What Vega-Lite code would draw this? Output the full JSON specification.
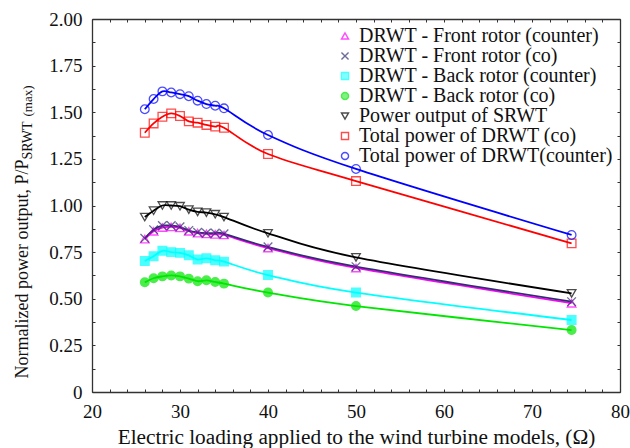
{
  "$schema": "https://vega.github.io/schema/vega-lite/v6.json",
  "width": 528,
  "height": 373,
  "autosize": {"type": "none"},
  "padding": {"left": 92, "top": 19, "right": 10, "bottom": 56},
  "background": "white",
  "config": {
    "font": "Liberation Serif",
    "view": {"stroke": null},
    "axis": {
      "domainColor": "#333333",
      "domainWidth": 1.3,
      "tickColor": "#333333",
      "tickWidth": 1,
      "tickSize": -3,
      "grid": false,
      "labelFont": "Liberation Serif",
      "labelFontSize": 19,
      "labelColor": "#111111",
      "labelFlush": false,
      "labelOverlap": false,
      "titleFont": "Liberation Serif",
      "titleFontSize": 18,
      "titleFontWeight": "normal",
      "titleColor": "#111111"
    },
    "legend": {
      "labelFont": "Liberation Serif",
      "labelFontSize": 20,
      "labelColor": "#111111",
      "labelLimit": 400,
      "labelOffset": 4,
      "symbolSize": 50,
      "symbolStrokeWidth": 1.4,
      "rowPadding": -7.5,
      "padding": 0
    }
  },
  "data": {
    "values": [
      {"x": 26, "DRWT - Front  rotor (counter)": 0.82, "DRWT - Front rotor (co)": 0.824, "DRWT - Back rotor (counter)": 0.702, "DRWT - Back rotor (co)": 0.588, "Power output of SRWT": 0.938, "Total power of DRWT (co)": 1.39, "Total power of DRWT(counter)": 1.516},
      {"x": 27, "DRWT - Front  rotor (counter)": 0.862, "DRWT - Front rotor (co)": 0.87, "DRWT - Back rotor (counter)": 0.728, "DRWT - Back rotor (co)": 0.61, "Power output of SRWT": 0.972, "Total power of DRWT (co)": 1.44, "Total power of DRWT(counter)": 1.571},
      {"x": 28, "DRWT - Front  rotor (counter)": 0.882, "DRWT - Front rotor (co)": 0.892, "DRWT - Back rotor (counter)": 0.757, "DRWT - Back rotor (co)": 0.62, "Power output of SRWT": 1.0, "Total power of DRWT (co)": 1.476, "Total power of DRWT(counter)": 1.612},
      {"x": 29, "DRWT - Front  rotor (counter)": 0.885, "DRWT - Front rotor (co)": 0.892, "DRWT - Back rotor (counter)": 0.75, "DRWT - Back rotor (co)": 0.625, "Power output of SRWT": 1.0, "Total power of DRWT (co)": 1.494, "Total power of DRWT(counter)": 1.606},
      {"x": 30, "DRWT - Front  rotor (counter)": 0.88, "DRWT - Front rotor (co)": 0.886, "DRWT - Back rotor (counter)": 0.746, "DRWT - Back rotor (co)": 0.62, "Power output of SRWT": 0.996, "Total power of DRWT (co)": 1.48, "Total power of DRWT(counter)": 1.597},
      {"x": 31, "DRWT - Front  rotor (counter)": 0.862, "DRWT - Front rotor (co)": 0.866, "DRWT - Back rotor (counter)": 0.733, "DRWT - Back rotor (co)": 0.608, "Power output of SRWT": 0.978, "Total power of DRWT (co)": 1.451, "Total power of DRWT(counter)": 1.586},
      {"x": 32, "DRWT - Front  rotor (counter)": 0.852, "DRWT - Front rotor (co)": 0.856, "DRWT - Back rotor (counter)": 0.71, "DRWT - Back rotor (co)": 0.594, "Power output of SRWT": 0.966, "Total power of DRWT (co)": 1.444, "Total power of DRWT(counter)": 1.562},
      {"x": 33, "DRWT - Front  rotor (counter)": 0.848, "DRWT - Front rotor (co)": 0.852, "DRWT - Back rotor (counter)": 0.717, "DRWT - Back rotor (co)": 0.599, "Power output of SRWT": 0.962, "Total power of DRWT (co)": 1.432, "Total power of DRWT(counter)": 1.544},
      {"x": 34, "DRWT - Front  rotor (counter)": 0.845, "DRWT - Front rotor (co)": 0.852, "DRWT - Back rotor (counter)": 0.706, "DRWT - Back rotor (co)": 0.59, "Power output of SRWT": 0.953, "Total power of DRWT (co)": 1.423, "Total power of DRWT(counter)": 1.535},
      {"x": 35, "DRWT - Front  rotor (counter)": 0.842, "DRWT - Front rotor (co)": 0.848, "DRWT - Back rotor (counter)": 0.699, "DRWT - Back rotor (co)": 0.581, "Power output of SRWT": 0.938, "Total power of DRWT (co)": 1.417, "Total power of DRWT(counter)": 1.521},
      {"x": 40, "DRWT - Front  rotor (counter)": 0.772, "DRWT - Front rotor (co)": 0.778, "DRWT - Back rotor (counter)": 0.627, "DRWT - Back rotor (co)": 0.533, "Power output of SRWT": 0.851, "Total power of DRWT (co)": 1.276, "Total power of DRWT(counter)": 1.378},
      {"x": 50, "DRWT - Front  rotor (counter)": 0.665, "DRWT - Front rotor (co)": 0.672, "DRWT - Back rotor (counter)": 0.533, "DRWT - Back rotor (co)": 0.461, "Power output of SRWT": 0.722, "Total power of DRWT (co)": 1.131, "Total power of DRWT(counter)": 1.196},
      {"x": 74.5, "DRWT - Front  rotor (counter)": 0.476, "DRWT - Front rotor (co)": 0.484, "DRWT - Back rotor (counter)": 0.386, "DRWT - Back rotor (co)": 0.332, "Power output of SRWT": 0.529, "Total power of DRWT (co)": 0.797, "Total power of DRWT(counter)": 0.842}
    ]
  },
  "transform": [
    {"fold": ["DRWT - Front  rotor (counter)", "DRWT - Front rotor (co)", "DRWT - Back rotor (counter)", "DRWT - Back rotor (co)", "Power output of SRWT", "Total power of DRWT (co)", "Total power of DRWT(counter)"], "as": ["s", "y"]}
  ],
  "layer": [
    {
      "mark": {"type": "line", "interpolate": "cardinal", "strokeWidth": 1.8},
      "encoding": {
        "x": {
          "field": "x", "type": "quantitative",
          "scale": {"domain": [20, 80], "nice": false},
          "axis": {
            "orient": "bottom",
            "values": [20, 22, 24, 26, 28, 30, 32, 34, 36, 38, 40, 42, 44, 46, 48, 50, 52, 54, 56, 58, 60, 62, 64, 66, 68, 70, 72, 74, 76, 78, 80],
            "labelExpr": "datum.value % 10 === 0 ? datum.label : ''",
            "labelPadding": 13,
            "title": "Electric loading applied to the wind turbine models, (Ω)",
            "titleFontSize": 21.3,
            "titleY": 51,
            "titleBaseline": "alphabetic"
          }
        },
        "y": {
          "field": "y", "type": "quantitative",
          "scale": {"domain": [0, 2], "nice": false, "zero": false},
          "axis": {
            "orient": "left",
            "values": [0, 0.125, 0.25, 0.375, 0.5, 0.625, 0.75, 0.875, 1, 1.125, 1.25, 1.375, 1.5, 1.625, 1.75, 1.875, 2],
            "labelExpr": "datum.value === 0 ? '0' : (round(datum.value * 8) % 2 === 0 ? format(datum.value, '.2f') : '')",
            "labelPadding": 13,
            "title": "Normalized power output, P/P",
            "titleAngle": 270,
            "titleAlign": "left",
            "titleBaseline": "alphabetic",
            "titleX": -65,
            "titleY": 359
          }
        },
        "color": {
          "field": "s", "type": "nominal", "legend": null,
          "scale": {
            "domain": ["Total power of DRWT(counter)", "Total power of DRWT (co)", "Power output of SRWT", "DRWT - Back rotor (co)", "DRWT - Back rotor (counter)", "DRWT - Front rotor (co)", "DRWT - Front  rotor (counter)"],
            "range": ["#0000ff", "#ff0000", "#000000", "#00e600", "#00ffff", "#2f2f6f", "#ff00ff"]
          }
        }
      }
    },
    {
      "mark": {"type": "point", "filled": false, "size": 75, "strokeWidth": 1.3},
      "encoding": {
        "x": {
          "field": "x", "type": "quantitative",
          "axis": {
            "orient": "top",
            "values": [20, 22, 24, 26, 28, 30, 32, 34, 36, 38, 40, 42, 44, 46, 48, 50, 52, 54, 56, 58, 60, 62, 64, 66, 68, 70, 72, 74, 76, 78, 80],
            "labels": false,
            "title": "(max)",
            "titleFontSize": 13,
            "titleAngle": 270,
            "titleAlign": "left",
            "titleBaseline": "alphabetic",
            "titleX": -61,
            "titleY": 97
          }
        },
        "y": {
          "field": "y", "type": "quantitative",
          "axis": {
            "orient": "right",
            "values": [0, 0.125, 0.25, 0.375, 0.5, 0.625, 0.75, 0.875, 1, 1.125, 1.25, 1.375, 1.5, 1.625, 1.75, 1.875, 2],
            "labels": false,
            "title": "SRWT",
            "titleFontSize": 14,
            "titleAngle": 270,
            "titleAlign": "left",
            "titleBaseline": "alphabetic",
            "titleX": -589,
            "titleY": 140
          }
        },
        "stroke": {
          "field": "s", "type": "nominal", "title": null,
          "legend": {"orient": "top-right", "offset": 7},
          "scale": {
            "domain": ["DRWT - Front  rotor (counter)", "DRWT - Front rotor (co)", "DRWT - Back rotor (counter)", "DRWT - Back rotor (co)", "Power output of SRWT", "Total power of DRWT (co)", "Total power of DRWT(counter)"],
            "range": ["#ff00ff", "#2f2f6f", "#00ffff", "#00e600", "#000000", "#ff0000", "#0000ff"]
          }
        },
        "fill": {
          "field": "s", "type": "nominal", "title": null,
          "legend": {"orient": "top-right", "offset": 7},
          "scale": {
            "domain": ["DRWT - Front  rotor (counter)", "DRWT - Front rotor (co)", "DRWT - Back rotor (counter)", "DRWT - Back rotor (co)", "Power output of SRWT", "Total power of DRWT (co)", "Total power of DRWT(counter)"],
            "range": ["transparent", "transparent", "#00ffff", "#00e600", "transparent", "transparent", "transparent"]
          }
        },
        "shape": {
          "field": "s", "type": "nominal", "title": null,
          "legend": {"orient": "top-right", "offset": 7},
          "scale": {
            "domain": ["DRWT - Front  rotor (counter)", "DRWT - Front rotor (co)", "DRWT - Back rotor (counter)", "DRWT - Back rotor (co)", "Power output of SRWT", "Total power of DRWT (co)", "Total power of DRWT(counter)"],
            "range": ["triangle-up", "M-1,-1L1,1M1,-1L-1,1", "square", "circle", "triangle-down", "square", "circle"]
          }
        }
      }
    }
  ],
  "resolve": {"axis": {"x": "independent", "y": "independent"}}
}
